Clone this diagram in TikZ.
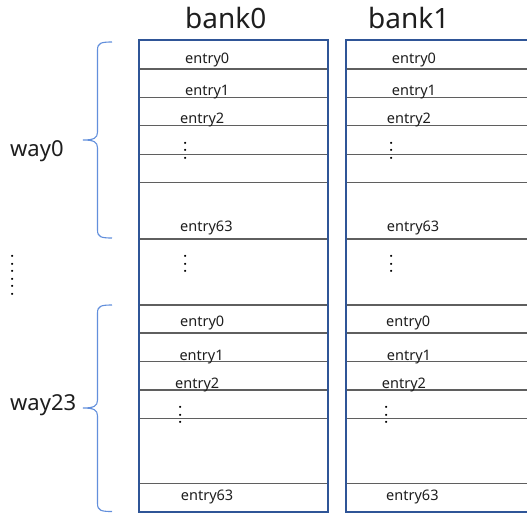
\documentclass[tikz,border=0pt]{standalone}
\usepackage{fontspec}
\setmainfont{Noto Sans}
\definecolor{boxblue}{RGB}{47,85,151}
\definecolor{braceblue}{RGB}{98,143,220}
\definecolor{rowline}{RGB}{95,95,95}
\definecolor{txt}{RGB}{30,30,30}
\newcommand{\onedot}{\makebox[7.5pt]{.}}
\newcommand{\threedots}{\onedot\onedot\onedot}
\newcommand{\sixdots}{\onedot\onedot\onedot\onedot\onedot\onedot}
\begin{document}
\begin{tikzpicture}[x=1pt,y=-1pt,
  entrytxt/.style={anchor=base west, inner sep=0pt, font=\fontsize{14.5}{17}\selectfont, text=txt},
  banktxt/.style={anchor=base west, inner sep=0pt, font=\fontsize{28}{32}\selectfont, text=txt},
  waytxt/.style={anchor=base west, inner sep=0pt, font=\fontsize{22}{26}\selectfont, text=txt},
  dotstxt/.style={anchor=base, rotate=90, inner sep=0pt, font=\fontsize{16}{16}\selectfont\bfseries, text=black},
  rowsty/.style={draw=rowline, line width=1.2pt},
  boxsty/.style={draw=boxblue, line width=1.6pt},
  bracesty/.style={draw=braceblue, line width=1.1pt}]
\clip (0,0) rectangle (527,514);
\fill[white] (0,0) rectangle (527,514);

% row separators
\foreach \yy in {69,97.7,125.7,154.3,182.3,239,305,333,361.7,390,418.3,483.3} {
  \draw[rowsty] (139,\yy) -- (328,\yy);
  \draw[rowsty] (346,\yy) -- (540,\yy);
}
% bank boxes
\draw[boxsty] (139,40) rectangle (328,511.7);
\draw[boxsty] (346,40) rectangle (545,511.7);

% titles
\node[banktxt] (b0) at (185,28) {bank0};
\node[banktxt] (b1) at (368,28) {bank1};

% bank0 entries, way0
\node[entrytxt] (a0) at (185,63.3) {entry0};
\node[entrytxt] (a1) at (185,95) {entry1};
\node[entrytxt] (a2) at (180,123.3) {entry2};
\node[dotstxt] (ad) at (186.7,150.7) {\threedots};
\node[entrytxt] (a63) at (180,231.7) {entry63};
\node[dotstxt] (amid) at (186.7,264.3) {\threedots};
% bank0 entries, way23
\node[entrytxt] (c0) at (180,326) {entry0};
\node[entrytxt] (c1) at (179.3,360) {entry1};
\node[entrytxt] (c2) at (175,388.3) {entry2};
\node[dotstxt] (cd) at (181,415) {\threedots};
\node[entrytxt] (c63) at (180.7,500.7) {entry63};

% bank1 entries, way0
\node[entrytxt] (e0) at (391.7,63.3) {entry0};
\node[entrytxt] (e1) at (391.7,95) {entry1};
\node[entrytxt] (e2) at (386.7,123.3) {entry2};
\node[dotstxt] (ed) at (392.7,150.7) {\threedots};
\node[entrytxt] (e63) at (386.7,231.7) {entry63};
\node[dotstxt] (emid) at (392.7,264.3) {\threedots};
% bank1 entries, way23
\node[entrytxt] (g0) at (386,326) {entry0};
\node[entrytxt] (g1) at (386.7,360) {entry1};
\node[entrytxt] (g2) at (381.7,388.3) {entry2};
\node[dotstxt] (gd) at (387.7,415) {\threedots};
\node[entrytxt] (g63) at (386,500.7) {entry63};

% way labels
\node[waytxt] (w0) at (10,156.5) {way0};
\node[waytxt] (w23) at (10,410) {way23};
\node[dotstxt] (wd) at (13.3,275.4) {\sixdots};

% braces
\draw[bracesty] (112,42) .. controls (101,42) and (97.5,43) .. (97.5,50)
  -- (97.5,132) .. controls (97.5,138) and (94,140) .. (83,140)
  .. controls (94,140) and (97.5,142) .. (97.5,148)
  -- (97.5,230) .. controls (97.5,237) and (101,238) .. (112,238);
\draw[bracesty] (112,305) .. controls (101,305) and (97.5,306) .. (97.5,313)
  -- (97.5,400) .. controls (97.5,406) and (94,408) .. (83,408)
  .. controls (94,408) and (97.5,410) .. (97.5,416)
  -- (97.5,503.5) .. controls (97.5,510.5) and (101,511.5) .. (112,511.5);
\end{tikzpicture}
\end{document}
